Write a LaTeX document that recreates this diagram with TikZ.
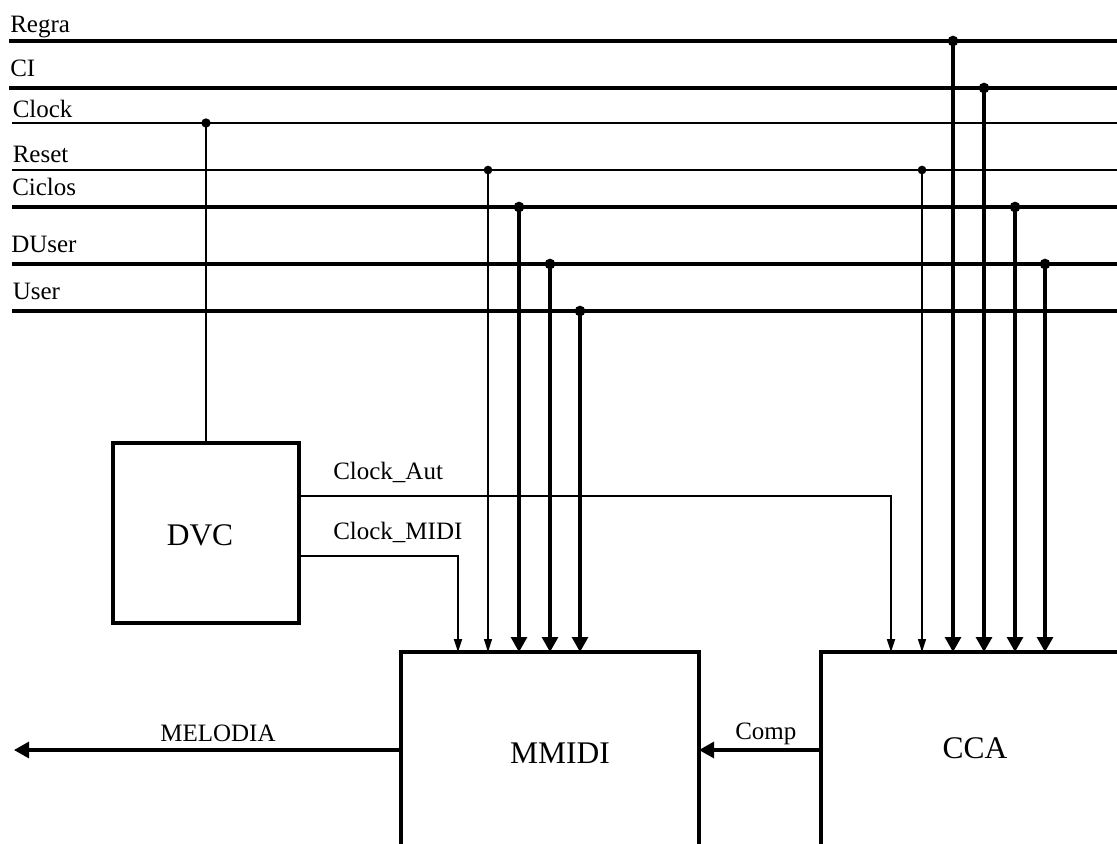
\documentclass[tikz,border=0pt]{standalone}
\usepackage{fontspec}
\setmainfont{Liberation Serif}
\usetikzlibrary{arrows.meta}
\begin{document}
\begin{tikzpicture}[x=0.75pt,y=-0.75pt,
  thickw/.style={line width=2.3pt},
  medw/.style={line width=1.7pt},
  thinw/.style={line width=0.95pt},
  sigw/.style={line width=1.3pt},
  boxw/.style={line width=2.5pt},
  bigtip/.style={-{Triangle[length=11.25pt,width=12pt]}},
  smalltip/.style={-{Triangle[length=9.75pt,width=6pt]}},
  lbl/.style={font=\fontsize{18.75}{21}\selectfont, inner sep=0pt, anchor=base west},
  boxlbl/.style={font=\fontsize{23.6}{26}\selectfont, inner sep=0pt},
  blk/.style={rectangle, inner sep=0pt, outer sep=0pt},
  jdot/.style={circle, fill, inner sep=0pt, minimum size=#1},
]
\useasboundingbox (0,0) rectangle (1117,843);
\clip (0,0) rectangle (1117,843);

% blocks
\node[blk, minimum width=139.5pt, minimum height=135pt] (dvc) at (206,533) {};
\draw[boxw] (dvc.north west) rectangle (dvc.south east);
\node[boxlbl] (dvcT) at (200,535) {DVC};
\node[blk, minimum width=223.5pt, minimum height=223.5pt] (mmidi) at (550,801) {};
\draw[boxw] (mmidi.north west) rectangle (mmidi.south east);
\node[boxlbl] (mmidiT) at (560,753) {MMIDI};
\node[blk, minimum width=321.75pt, minimum height=223.5pt] (cca) at (1035.5,801) {};
\draw[boxw] (cca.north west) rectangle (cca.south east);
\node[boxlbl] (ccaT) at (975,748) {CCA};

% bus lines
\coordinate (regraL) at (9,41);   \coordinate (regraR) at (1130,41);
\coordinate (ciL) at (9,88);      \coordinate (ciR) at (1130,88);
\coordinate (clockL) at (12,123); \coordinate (clockR) at (1130,123);
\coordinate (resetL) at (12,170); \coordinate (resetR) at (1130,170);
\coordinate (ciclosL) at (12,207);\coordinate (ciclosR) at (1130,207);
\coordinate (duserL) at (12,264); \coordinate (duserR) at (1130,264);
\coordinate (userL) at (12,311);  \coordinate (userR) at (1130,311);

\draw[thickw] (regraL) -- (regraR);
\draw[thickw] (ciL) -- (ciR);
\draw[medw] (clockL) -- (clockR);
\draw[thinw] (resetL) -- (resetR);
\draw[thickw] (ciclosL) -- (ciclosR);
\draw[thickw] (duserL) -- (duserR);
\draw[thickw] (userL) -- (userR);

\node[lbl] (regraT) at (10,32.5) {Regra};
\node[lbl] (ciT) at (10,76.5) {CI};
\node[lbl] (clockT) at (12.5,117) {Clock};
\node[lbl] (resetT) at (12.5,162.5) {Reset};
\node[lbl] (ciclosT) at (12,195.5) {Ciclos};
\node[lbl] (duserT) at (11,252) {DUser};
\node[lbl] (userT) at (12.5,299.5) {User};

% junctions
\coordinate (jClock) at (206,123);
\coordinate (jResetM) at (488,170);
\coordinate (jResetC) at (922,170);
\coordinate (jCiclosM) at (519,207);
\coordinate (jCiclosC) at (1015,207);
\coordinate (jDuserM) at (550,264);
\coordinate (jDuserC) at (1045,264);
\coordinate (jUserM) at (580,311);
\coordinate (jRegraC) at (953,41);
\coordinate (jCiC) at (984,88);

\draw[medw] (jClock) -- (dvc.north);
\draw[thinw, smalltip] (jResetM) -- (jResetM |- mmidi.north);
\draw[thinw, smalltip] (jResetC) -- (jResetC |- cca.north);
\draw[thickw, bigtip] (jCiclosM) -- (jCiclosM |- mmidi.north);
\draw[thickw, bigtip] (jCiclosC) -- (jCiclosC |- cca.north);
\draw[thickw, bigtip] (jDuserM) -- (jDuserM |- mmidi.north);
\draw[thickw, bigtip] (jDuserC) -- (jDuserC |- cca.north);
\draw[thickw, bigtip] (jUserM) -- (jUserM |- mmidi.north);
\draw[thickw, bigtip] (jRegraC) -- (jRegraC |- cca.north);
\draw[thickw, bigtip] (jCiC) -- (jCiC |- cca.north);

\node[jdot=7pt] (dClock) at (jClock) {};
\node[jdot=6.5pt] (dResetM) at (jResetM) {};
\node[jdot=6.5pt] (dResetC) at (jResetC) {};
\node[jdot=8pt] (dCiclosM) at (jCiclosM) {};
\node[jdot=8pt] (dCiclosC) at (jCiclosC) {};
\node[jdot=8pt] (dDuserM) at (jDuserM) {};
\node[jdot=8pt] (dDuserC) at (jDuserC) {};
\node[jdot=8pt] (dUserM) at (jUserM) {};
\node[jdot=8pt] (dRegraC) at (jRegraC) {};
\node[jdot=8pt] (dCiC) at (jCiC) {};

% DVC outputs
\coordinate (cautK) at (891,496);
\coordinate (cmidiK) at (458,556);
\draw[sigw, smalltip] (dvc.east |- cautK) -- (cautK) -- (cautK |- cca.north);
\draw[sigw, smalltip] (dvc.east |- cmidiK) -- (cmidiK) -- (cmidiK |- mmidi.north);
\node[lbl] (cautT) at (333,479) {Clock\_Aut};
\node[lbl] (cmidiT) at (333,539.3) {Clock\_MIDI};

% Comp and MELODIA
\coordinate (compY) at (760,750);
\coordinate (melEnd) at (14,750);
\draw[thickw, bigtip] (cca.west |- compY) -- (mmidi.east |- compY);
\node[lbl] (compT) at (735,739) {Comp};
\draw[thickw, bigtip] (mmidi.west |- melEnd) -- (melEnd);
\node[lbl, anchor=base] (melT) at (218,741) {MELODIA};
\end{tikzpicture}
\end{document}
